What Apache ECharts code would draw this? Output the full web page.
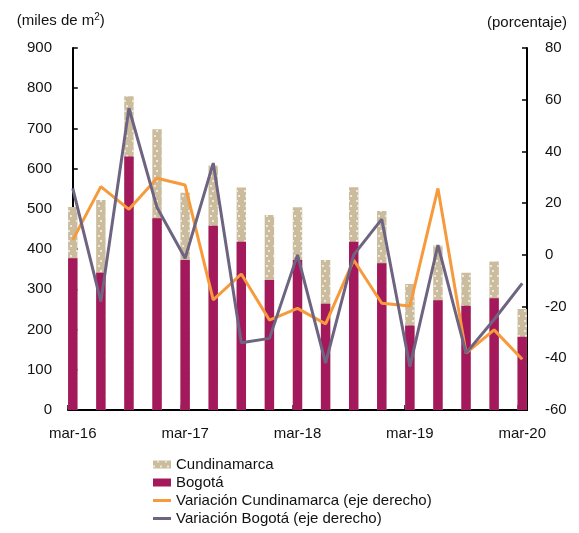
<!DOCTYPE html>
<html>
<head>
<meta charset="utf-8">
<script src="https://cdn.jsdelivr.net/npm/echarts@6/dist/echarts.min.js"></script>
<style>
  html, body { margin: 0; padding: 0; background: #fff; }
  #box { width: 579px; height: 533px; }
</style>
</head>
<body>
<div id="box"></div>
<script>
// trimestres
const categories = ["mar-16", "jun-16", "sep-16", "dic-16", "mar-17", "jun-17", "sep-17", "dic-17",
  "mar-18", "jun-18", "sep-18", "dic-18", "mar-19", "jun-19", "sep-19", "dic-19", "mar-20"];
// miles de m2
const bogota = [377, 341, 630, 477, 373, 458, 418, 323, 373, 264, 418, 365, 210, 273, 259, 278, 182];
const cundinamarca = [128, 181, 150, 221, 167, 150, 135, 162, 131, 109, 136, 130, 103, 136, 82, 91, 69];
// porcentaje (eje derecho)
const varCundinamarca = [5.8, 26.4, 17.6, 29.6, 27, -17.4, -7.4, -25.2, -20.7, -26.7, -2, -18.7, -19.8, 25.7, -38, -29, -40.4];
const varBogota = [25.7, -18.1, 56.7, 18.3, -1.3, 35.5, -34, -32.3, 0, -41.9, 0, 13.8, -43.2, 3.8, -38, -25, -11];
const labelIdx = [0, 4, 8, 12, 16];

const font = "Liberation Sans, Arial, sans-serif";
const pair = (arr) => arr.map((v, i) => [i, v]);
// la barra de Cundinamarca va encima de la de Bogotá (total)
const total = bogota.map((v, i) => v + cundinamarca[i]);

const legendText = { fontSize: 15, color: "#111", lineHeight: 15, fontFamily: font };

let myChart = echarts.init(document.getElementById("box"));
let option = {
  animation: false,
  textStyle: { fontFamily: font },
  grid: { left: 68, right: 52, top: 48, bottom: 123, containLabel: false, outerBoundsMode: "none" },
  legend: [
    {
      orient: "vertical", left: 153, top: 457, height: 60, padding: 0,
      itemWidth: 18, itemHeight: 8, itemGap: 3, icon: "rect",
      textStyle: legendText,
      data: ["Cundinamarca", "Bogotá"]
    },
    {
      orient: "vertical", left: 153, top: 493, height: 60, padding: 0,
      itemWidth: 18, itemHeight: 3, itemGap: 3, icon: "rect",
      textStyle: legendText,
      data: ["Variación Cundinamarca (eje derecho)", "Variación Bogotá (eje derecho)"]
    }
  ],
  xAxis: {
    type: "value",
    min: -0.17,
    max: 16.17,
    splitLine: { show: false },
    axisLine: { lineStyle: { color: "#000", width: 2 } },
    axisTick: {
      inside: true, length: 5, lineStyle: { color: "#000", width: 1.5 },
      customValues: labelIdx.map(i => i - 0.17)
    },
    axisLabel: {
      customValues: labelIdx,
      formatter: (v) => categories[Math.round(v)],
      fontSize: 15, color: "#111", margin: 16, fontFamily: font
    }
  },
  yAxis: [
    {
      type: "value", min: 0, max: 900, interval: 100,
      name: "(miles de m{sup|2})",
      nameLocation: "end", nameGap: 18,
      nameTextStyle: {
        fontSize: 15, color: "#111", align: "center", padding: [0, 24, 0, 0],
        rich: { sup: { fontSize: 10, verticalAlign: "top", padding: [0, 0, 8, 0], color: "#111" } }
      },
      splitLine: { show: false },
      axisLine: { show: true, lineStyle: { color: "#000", width: 2 } },
      axisTick: { show: true, inside: true, length: 5, lineStyle: { color: "#000", width: 1.5 } },
      axisLabel: { fontSize: 15, color: "#111", margin: 16, fontFamily: font }
    },
    {
      type: "value", min: -60, max: 80, interval: 20,
      name: "(porcentaje)",
      nameLocation: "end", nameGap: 18,
      nameTextStyle: { fontSize: 15, color: "#111", align: "center" },
      splitLine: { show: false },
      axisLine: { show: true, lineStyle: { color: "#000", width: 2 } },
      axisTick: { show: true, inside: true, length: 5, lineStyle: { color: "#000", width: 1.5 } },
      axisLabel: { fontSize: 15, color: "#111", margin: 18, fontFamily: font }
    }
  ],
  series: [
    {
      name: "Cundinamarca", type: "bar", barWidth: 9.4, barGap: "-100%",
      itemStyle: {
        color: "#CBBC9E",
        decal: {
          symbol: "circle", symbolSize: 1, color: "rgba(255,255,255,0.85)",
          dashArrayX: [[2, 5], [0, 3.5, 2, 1.5]], dashArrayY: [2, 3]
        }
      },
      data: pair(total)
    },
    {
      name: "Bogotá", type: "bar", barWidth: 9.4, barGap: "-100%",
      itemStyle: { color: "#A3195B" },
      data: pair(bogota)
    },
    {
      name: "Variación Cundinamarca (eje derecho)", type: "line", yAxisIndex: 1,
      symbol: "none", lineStyle: { color: "#F79A3C", width: 3 }, itemStyle: { color: "#F79A3C" },
      data: pair(varCundinamarca)
    },
    {
      name: "Variación Bogotá (eje derecho)", type: "line", yAxisIndex: 1,
      symbol: "none", lineStyle: { color: "#6E6482", width: 3 }, itemStyle: { color: "#6E6482" },
      data: pair(varBogota)
    }
  ]
};
myChart.setOption(option);
</script>
</body>
</html>
